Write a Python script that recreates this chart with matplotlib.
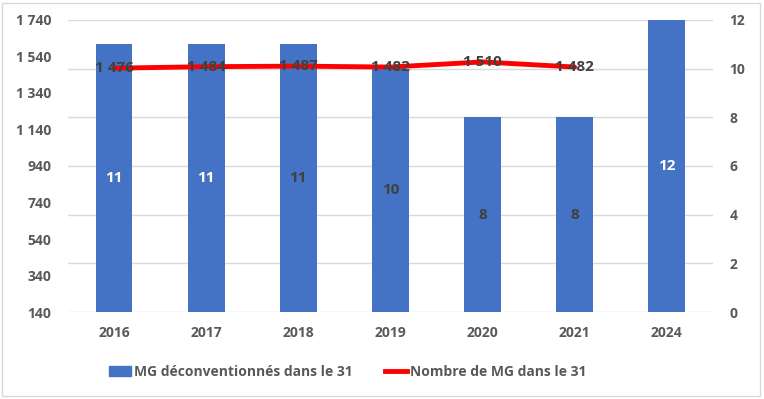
import numpy as np
import matplotlib.pyplot as plt
from matplotlib.patches import Rectangle

years = ["2016", "2017", "2018", "2019", "2020", "2021", "2024"]
deconv = [11, 11, 11, 10, 8, 8, 12]
nb_mg = [1476, 1484, 1487, 1482, 1510, 1482, np.nan]
# bar label colours as they appear in the source
bar_label_colors = ["white", "white", "#404040", "#404040", "#404040", "#404040", "white"]

left_ticks = list(range(140, 1741, 200))
right_ticks = list(range(0, 13, 2))

BLUE = "#4472C4"
RED = "#FF0000"
GREY = "#595959"
FONT = "Open Sans"
FS = 10
LABEL_FS = 11


def fmt(v):
    return f"{int(v):,}".replace(",", " ")


plt.rcParams["font.family"] = [FONT, "DejaVu Sans"]
plt.rcParams["font.weight"] = "bold"

fig = plt.figure(figsize=(7.64, 3.99), dpi=100)
ax = fig.add_axes([0.089, 0.218, 0.844, 0.732])
x = np.arange(len(years))

# bars on the right axis
ax.bar(x, deconv, width=0.40, color=BLUE, zorder=2)
ax.set_ylim(0, 12)
ax.set_xlim(-0.5, len(years) - 0.5)
ax.set_axisbelow(True)
ax.grid(axis="y", color="#D9D9D9", linewidth=1)
for s in ax.spines.values():
    s.set_visible(False)
ax.set_xticks(x)
ax.set_xticklabels(years, fontweight="bold")
for xi, v, c in zip(x, deconv, bar_label_colors):
    ax.text(xi, v / 2, str(v), ha="center", va="center", color=c,
            fontsize=LABEL_FS, fontweight="bold", zorder=3)

# line on the left axis
ax2 = ax.twinx()
ax2.plot(x, nb_mg, color=RED, linewidth=3.5, solid_capstyle="round", zorder=3)
ax2.set_ylim(140, 1740)
ax2.set_yticks(left_ticks)
ax2.set_yticklabels([fmt(t) for t in left_ticks], fontweight="bold")
ax2.yaxis.tick_left()
ax2.yaxis.set_label_position("left")
for s in ax2.spines.values():
    s.set_visible(False)
ax2.tick_params(length=0, labelsize=FS, labelcolor=GREY, pad=12)
for xi, v in zip(x, nb_mg):
    if np.isnan(v):
        continue
    ax2.text(xi, v, fmt(v), ha="center", va="center", color="#404040",
             fontsize=LABEL_FS, fontweight="bold", zorder=4)

ax.set_yticks(right_ticks)
ax.yaxis.tick_right()
ax.yaxis.set_label_position("right")
ax.tick_params(length=0, labelsize=FS, labelcolor=GREY, pad=12)
ax.tick_params(axis="x", pad=10)
for lab in ax.get_yticklabels():
    lab.set_fontweight("bold")

# legend (sits a bit left of centre in the source)
h1 = Rectangle((0, 0), 1, 1, color=BLUE)
h2 = plt.Line2D([0], [0], color=RED, linewidth=3.5)
fig.legend([h1, h2], ["MG déconventionnés dans le 31", "Nombre de MG dans le 31"],
           loc="center", bbox_to_anchor=(0.455, 0.068), ncol=2, frameon=False,
           labelcolor=GREY, handlelength=1.6, handletextpad=0.2,
           columnspacing=2.3, prop={"family": [FONT, "DejaVu Sans"], "weight": "bold", "size": FS})

# chart frame
fig.patches.append(Rectangle((0.003, 0.008), 0.992, 0.985, transform=fig.transFigure,
                             fill=False, edgecolor="#D9D9D9", linewidth=1))

fig.savefig("out.png", dpi=100)
